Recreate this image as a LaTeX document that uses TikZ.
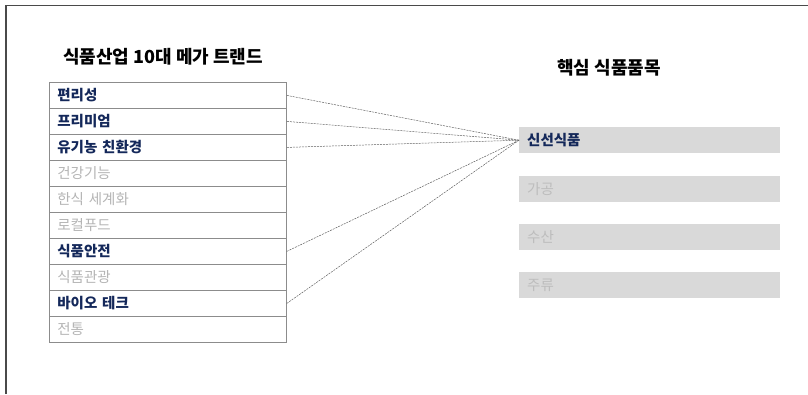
\documentclass[tikz,border=0pt]{standalone}
\usepackage{fontspec}
\setmainfont{Noto Sans CJK KR}
\definecolor{navy}{HTML}{14285A}
\definecolor{dimtext}{HTML}{B4B4B4}
\definecolor{boxtext}{HTML}{BDBDBD}
\definecolor{boxfill}{HTML}{D9D9D9}
\definecolor{tableline}{HTML}{8C8C8C}
\definecolor{frameline}{HTML}{4A4A4A}
\definecolor{linkline}{HTML}{606060}
\tikzset{
  row/.style={draw=tableline, line width=0.8pt, rectangle, anchor=north west,
    minimum height=26pt, text width=221pt, inner xsep=8pt, inner ysep=0pt, align=left,
    font=\fontsize{14.5}{16}\selectfont},
  hot/.style={text=navy, font=\fontsize{14.5}{16}\selectfont\bfseries},
  cold/.style={text=dimtext},
  item/.style={fill=boxfill, rectangle, anchor=north west, minimum height=26pt,
    text width=245pt, inner xsep=8pt, inner ysep=0pt, align=left,
    font=\fontsize{14.5}{16}\selectfont},
  itemcold/.style={text=boxtext},
  heading/.style={font=\fontsize{18}{20}\selectfont\bfseries, text=black, inner sep=0pt},
  link/.style={draw=linkline, line width=0.5pt, dash pattern=on 2pt off 1pt}
}
\begin{document}
\begin{tikzpicture}[x=1pt,y=-1pt]
\useasboundingbox (0,0) rectangle (808,394);
\draw[frameline, line width=1.4pt] (6,394) coordinate (fa) -- (6,5.5) coordinate (fb) -- (808,5.5) coordinate (fc);
\node[heading] (t1) at (163,57) {식품산업 10대 메가 트랜드};
\node[heading] (t2) at (609,68) {핵심 식품품목};
\node[row,hot]  (r1)  at (49,82)  {편리성};
\node[row,hot]  (r2)  at (49,108) {프리미엄};
\node[row,hot]  (r3)  at (49,134) {유기농 친환경};
\node[row,cold] (r4)  at (49,160) {건강기능};
\node[row,cold] (r5)  at (49,186) {한식 세계화};
\node[row,cold] (r6)  at (49,212) {로컬푸드};
\node[row,hot]  (r7)  at (49,238) {식품안전};
\node[row,cold] (r8)  at (49,264) {식품관광};
\node[row,hot]  (r9)  at (49,290) {바이오 테크};
\node[row,cold] (r10) at (49,316) {전통};
\node[item,hot]      (p1) at (519,127) {신선식품};
\node[item,itemcold] (p2) at (519,176) {가공};
\node[item,itemcold] (p3) at (519,224) {수산};
\node[item,itemcold] (p4) at (519,272) {주류};
\foreach \r in {r1,r2,r3,r7,r9}{
  \draw[link] (\r.east) -- (p1.west);
}
\end{tikzpicture}
\end{document}
